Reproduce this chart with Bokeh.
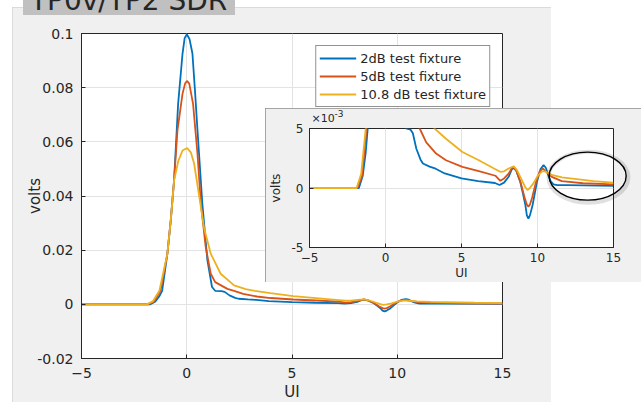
from bokeh.plotting import figure
from bokeh.models import GridBox, FixedTicker, CustomJSTickFormatter, Legend, Range1d, Div
from bokeh.embed import file_html
from bokeh.resources import INLINE

# ---------------- data (x in UI, values in mV) ----------------
blue_x = [-5, -1.75, -1.5, -1.3, -1.17, -0.92, -0.76, -0.6, -0.41, -0.2, -0.1, 0.0, 0.13, 0.27,
          0.39, 0.51, 0.74, 0.98, 1.2, 1.35, 1.65, 1.8, 2.03, 2.3, 2.46, 2.9, 3.3, 3.9, 5.0, 6.1,
          7.2, 7.5, 7.8, 8.1, 8.3, 8.43, 8.6, 8.87, 9.05, 9.2, 9.3, 9.4, 9.5, 9.68, 9.96, 10.2,
          10.4, 10.55, 10.7, 10.85, 11.05, 11.3, 12.0, 15.0]
blue_mv = [0, 0, 1.0, 3.0, 5.0, 18.7, 31, 46, 74, 92.6, 98.3, 99.7, 98.0, 92.6,
           79, 64.3, 37.2, 16.3, 6.4, 5.0, 4.9, 4.6, 3.3, 2.4, 2.06, 1.8, 1.62, 1.22, 0.8, 0.58,
           0.42, 0.25, 0.45, 0.94, 1.55, 1.69, 1.45, 0.5, -0.5, -1.42, -2.3, -2.58, -2.3, -1.42, 0.5, 1.6,
           1.92, 1.7, 1.1, 0.6, 0.31, 0.25, 0.24, 0.18]

red_x = [-5, -1.85, -1.55, -1.25, -0.92, -0.76, -0.6, -0.44, -0.2, -0.08, 0.01, 0.12, 0.3, 0.51,
         0.67, 0.9, 1.14, 1.35, 1.93, 2.25, 2.68, 3.33, 3.98, 5.06, 6.14, 7.23, 7.55, 7.8, 8.1,
         8.3, 8.43, 8.6, 8.9, 9.15, 9.3, 9.4, 9.5, 9.65, 9.9, 10.15, 10.35, 10.55, 10.94, 11.6,
         13.0, 15.0]
red_mv = [0, 0, 1.0, 5.0, 18.7, 31, 46, 64.3, 77.8, 81.5, 82.5, 81.5, 74, 55.6,
          37.2, 21.2, 11.3, 8.2, 5.7, 5.0, 3.83, 2.89, 2.33, 1.78, 1.42, 1.03, 0.6, 0.8, 1.2,
          1.65, 1.8, 1.5, 0.4, -0.8, -1.4, -1.56, -1.4, -0.8, 0.5, 1.4, 1.64, 1.4, 0.94, 0.58,
          0.4, 0.31]

yel_x = [-5, -1.9, -1.6, -1.3, -0.92, -0.76, -0.6, -0.4, -0.2, 0.02, 0.2, 0.35, 0.67, 0.82,
         1.14, 1.61, 2.25, 2.8, 3.23, 3.98, 5.06, 6.14, 7.23, 7.55, 7.8, 8.1, 8.43, 8.65, 8.97,
         9.2, 9.34, 9.5, 9.73, 10.0, 10.3, 10.5, 10.94, 11.6, 13.7, 15.0]
yel_mv = [0, 0, 1.2, 5.0, 18.7, 31, 45.8, 53, 56.8, 57.7, 56, 52, 36, 28.3,
          18.7, 11.3, 7.0, 5.6, 5.0, 4.14, 3.03, 2.33, 1.58, 1.36, 1.4, 1.64, 1.83, 1.5, 0.67,
          0.05, -0.17, 0.0, 0.39, 1.0, 1.4, 1.4, 1.1, 0.89, 0.58, 0.44]

series_labels = ["2dB test fixture", "5dB test fixture", "10.8 dB test fixture"]
x_ticks = [-5, 0, 5, 10, 15]
main_y_ticks = [-0.02, 0, 0.02, 0.04, 0.06, 0.08, 0.1]
inset_y_ticks = [-0.005, 0, 0.005]
title_text = "TP0v/TP2 SDR"
x_label = "UI"
y_label = "volts"

blue_v = [v / 1000 for v in blue_mv]
red_v = [v / 1000 for v in red_mv]
yel_v = [v / 1000 for v in yel_mv]

COLORS = ["#0072BD", "#D95319", "#EDB120"]
TXT = "#262626"
FONT = "DejaVu Sans"
GRID = "#e3e3e3"
LW = 1.8


def style_axes(p, tick_px, label_px, yfmt):
    for ax in p.axis:
        ax.axis_line_color = TXT
        ax.major_tick_line_color = TXT
        ax.major_tick_in = 4
        ax.major_tick_out = 0
        ax.minor_tick_line_color = None
        ax.major_label_text_font = FONT
        ax.major_label_text_font_size = tick_px
        ax.major_label_text_color = TXT
        ax.axis_label_text_font = FONT
        ax.axis_label_text_font_size = label_px
        ax.axis_label_text_font_style = "normal"
        ax.axis_label_text_color = TXT
    p.yaxis.formatter = yfmt


# ---------------- main figure (frame 421 x 325) ----------------
main = figure(width=539, height=395, x_range=Range1d(-5, 15), y_range=Range1d(-0.02, 0.1),
              output_backend="svg", toolbar_location=None, margin=0,
              min_border_left=69, min_border_right=49, min_border_top=26, min_border_bottom=44,
              border_fill_color="#f0f0f0", background_fill_color="white",
              outline_line_color=TXT, y_axis_label=y_label,
              styles={"outline": "1px solid #d4d4d4", "outline-offset": "-1px"})
main.xaxis.ticker = FixedTicker(ticks=x_ticks)
main.yaxis.ticker = FixedTicker(ticks=main_y_ticks)
main.xgrid.ticker = FixedTicker(ticks=x_ticks)
main.ygrid.ticker = FixedTicker(ticks=main_y_ticks)
main.grid.grid_line_color = GRID
main_fmt = CustomJSTickFormatter(code="return Number(tick.toFixed(4)).toString();")
style_axes(main, "14px", "15px", main_fmt)
main.xaxis.major_label_standoff = 9
main.yaxis.major_label_standoff = 8
main.yaxis.axis_label_standoff = -10

r1 = main.line(blue_x, blue_v, color=COLORS[0], line_width=LW)
r2 = main.line(red_x, red_v, color=COLORS[1], line_width=LW)
r3 = main.line(yel_x, yel_v, color=COLORS[2], line_width=LW)

# x-axis title, centred under the axis, anchored at the bottom of the frame
main.text(x=[(x_ticks[0] + x_ticks[-1]) / 2], y=[main_y_ticks[0]], text=[x_label], y_offset=33,
          text_font={"value": FONT}, text_font_size="15px", text_color=TXT,
          text_align="center", text_baseline="alphabetic", level="overlay")

legend = Legend(items=[(series_labels[0], [r1]), (series_labels[1], [r2]), (series_labels[2], [r3])],
                location="top_right", margin=12, padding=3, spacing=0,
                glyph_width=37, glyph_height=18, label_height=18, label_standoff=4,
                label_text_font=FONT, label_text_font_size="13px", label_text_color=TXT,
                border_line_color=TXT, border_line_width=1, background_fill_color="white",
                background_fill_alpha=1)
main.add_layout(legend)

# ---------------- inset figure (frame 308 x 120) ----------------
inset = figure(width=376, height=174, x_range=Range1d(-5, 15), y_range=Range1d(-0.005, 0.005),
               output_backend="svg", toolbar_location=None, margin=0,
               min_border_left=40, min_border_right=28, min_border_top=20, min_border_bottom=34,
               border_fill_color="#f0f0f0", background_fill_color="white",
               outline_line_color=TXT, x_axis_label=x_label, y_axis_label=y_label,
               styles={"outline": "2px solid #8c8c8c", "outline-offset": "-2px"})
inset.xaxis.ticker = FixedTicker(ticks=x_ticks)
inset.yaxis.ticker = FixedTicker(ticks=inset_y_ticks)
inset.xgrid.ticker = FixedTicker(ticks=x_ticks)
inset.ygrid.ticker = FixedTicker(ticks=inset_y_ticks)
inset.grid.grid_line_color = GRID
inset_fmt = CustomJSTickFormatter(code="return Math.round(tick * 1000).toString();")
style_axes(inset, "12px", "12px", inset_fmt)
inset.xaxis.major_label_standoff = 5
inset.xaxis.axis_label_standoff = 1
inset.yaxis.major_label_standoff = 6
inset.yaxis.axis_label_standoff = 6

inset.line(blue_x, blue_v, color=COLORS[0], line_width=LW)
inset.line(red_x, red_v, color=COLORS[1], line_width=LW)
inset.line(yel_x, yel_v, color=COLORS[2], line_width=LW)

# exponent note above the inset's y axis (anchored at the top-left corner of the frame)
inset.text(x=[x_ticks[0]], y=[inset_y_ticks[-1]], text=["\u00d710"], x_offset=2, y_offset=-10,
           text_font={"value": FONT}, text_font_size="11px", text_color=TXT,
           text_baseline="alphabetic", level="overlay")
inset.text(x=[x_ticks[0]], y=[inset_y_ticks[-1]], text=["-3"], x_offset=25, y_offset=-15,
           text_font={"value": FONT}, text_font_size="9px", text_color=TXT,
           text_baseline="alphabetic", level="overlay")

# highlight ellipse (with a soft shadow)
inset.ellipse(x=[13.35], y=[0.0009], width=80, height=51, width_units="screen",
              height_units="screen", fill_alpha=0, line_color="#000000", line_alpha=0.12,
              line_width=4, level="overlay")
inset.ellipse(x=[13.3], y=[0.001], width=77, height=48, width_units="screen",
              height_units="screen", fill_alpha=0, line_color="#000000", line_width=1.4,
              level="overlay")

# cropped title strip at the very top
title = Div(text=(f'<div style="position:relative;left:7px;top:-16px;font-family:\'DejaVu Sans\';'
                  f'font-size:28px;line-height:33px;color:{TXT};white-space:nowrap">{title_text}</div>'),
            width=212, height=15, margin=0,
            styles={"background-color": "#c0c0c0", "overflow": "hidden"})

grid = GridBox(children=[(main, 1, 1, 4, 4), (inset, 3, 4, 1, 2), (title, 0, 2, 2, 1)],
               rows=["7px", "8px", "93px", "174px", "120px"],
               cols=["12px", "11px", "212px", "30px", "286px", "90px"])

open("out.html", "w").write(file_html(grid, INLINE))
